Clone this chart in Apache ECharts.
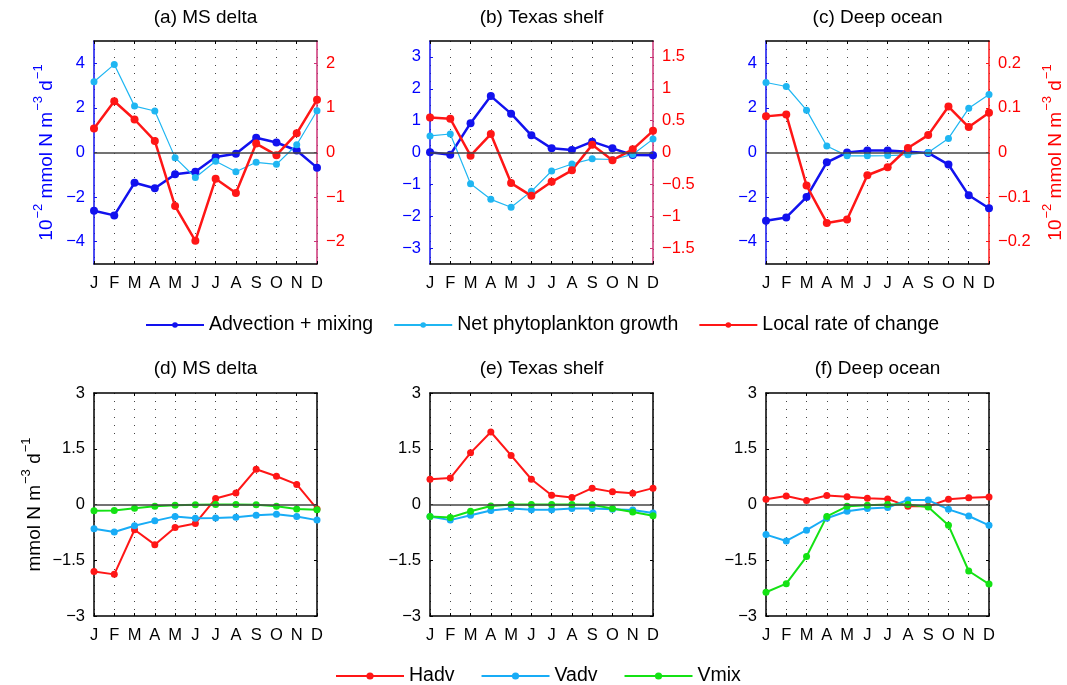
<!DOCTYPE html>
<html>
<head>
<meta charset="utf-8">
<script src="https://cdn.jsdelivr.net/npm/echarts@6/dist/echarts.min.js"></script>
<style>html,body{margin:0;padding:0;background:#fff;}#c{width:1067px;height:685px;}</style>
</head>
<body>
<div id="c"></div>
<script>
// ---------- data ----------
const months = ['Jan','Feb','Mar','Apr','May','Jun','Jul','Aug','Sep','Oct','Nov','Dec'];

// top row: advection+mixing, net phytoplankton growth (left axis), local rate of change (right axis)
const advA  = [-2.61,-2.82,-1.36,-1.60,-0.98,-0.86,-0.20,-0.06,0.66,0.45,0.09,-0.68];
const phyA  = [3.17,3.95,2.08,1.86,-0.23,-1.12,-0.39,-0.86,-0.44,-0.53,0.35,1.87];
const rateA = [0.54,1.15,0.74,0.26,-1.20,-1.98,-0.59,-0.91,0.20,-0.06,0.43,1.18];

const advB  = [0.01,-0.07,0.92,1.77,1.22,0.54,0.13,0.08,0.34,0.13,-0.08,-0.09];
const phyB  = [0.52,0.58,-0.98,-1.47,-1.72,-1.22,-0.58,-0.36,-0.20,-0.22,-0.06,0.42];
const rateB = [0.55,0.53,-0.05,0.29,-0.48,-0.68,-0.46,-0.28,0.12,-0.12,0.05,0.34];

const advC  = [-3.06,-2.91,-2.00,-0.44,0.00,0.09,0.09,0.03,-0.02,-0.54,-1.92,-2.50];
const phyC  = [3.14,2.96,1.90,0.29,-0.15,-0.15,-0.14,-0.10,0.00,0.63,1.98,2.60];
const rateC = [0.081,0.085,-0.074,-0.158,-0.150,-0.051,-0.033,0.010,0.039,0.103,0.057,0.089];

// bottom row: Hadv, Vadv, Vmix
const hadvD = [-1.80,-1.88,-0.68,-1.08,-0.62,-0.51,0.16,0.31,0.95,0.76,0.54,-0.12];
const vadvD = [-0.65,-0.74,-0.57,-0.44,-0.32,-0.37,-0.36,-0.34,-0.29,-0.26,-0.32,-0.42];
const vmixD = [-0.17,-0.16,-0.10,-0.05,-0.02,-0.01,0.00,0.00,-0.01,-0.05,-0.12,-0.14];

const hadvE = [0.68,0.71,1.39,1.95,1.32,0.68,0.25,0.19,0.44,0.34,0.30,0.44];
const vadvE = [-0.32,-0.42,-0.29,-0.16,-0.11,-0.14,-0.14,-0.11,-0.11,-0.13,-0.15,-0.23];
const vmixE = [-0.32,-0.35,-0.18,-0.04,0.00,0.00,0.00,0.00,-0.01,-0.11,-0.20,-0.30];

const hadvF = [0.14,0.23,0.11,0.24,0.21,0.17,0.15,-0.05,-0.05,0.14,0.18,0.20];
const vadvF = [-0.81,-0.98,-0.69,-0.37,-0.18,-0.11,-0.08,0.12,0.12,-0.13,-0.31,-0.56];
const vmixF = [-2.36,-2.13,-1.40,-0.32,-0.05,-0.02,0.00,0.00,-0.07,-0.56,-1.79,-2.14];

// tick labels
const ticksLeftAC  = [-4,-2,0,2,4];
const ticksRightA  = [-2,-1,0,1,2];
const ticksLeftB   = [-3,-2,-1,0,1,2,3];
const ticksRightB  = [-1.5,-1,-0.5,0,0.5,1,1.5];
const ticksRightC  = [-0.2,-0.1,0,0.1,0.2];
const ticksBottom  = [-3,-1.5,0,1.5,3];

const titles = ['(a) MS delta','(b) Texas shelf','(c) Deep ocean','(d) MS delta','(e) Texas shelf','(f) Deep ocean'];
const topNames = ['Advection + mixing','Net phytoplankton growth','Local rate of change'];
const botNames = ['Hadv','Vadv','Vmix'];

// ---------- styling / layout ----------
const FONT = 'Liberation Sans';
const BLUE = '#1212ee', CYAN = '#1fb6f2', RED = '#ff1616', GREEN = '#14e214', VCYAN = '#18acf6';
const MAG = '#cc3377';
const lefts = [94, 430, 766];
const W = 223, H = 223;
const tops = [41, 393];
const BIG = 19;

const minus = v => String(v).replace('-', '\u2212');

const grids = [], xAxes = [], yAxes = [], series = [], graphics = [];

function addGrid(left, top) {
  grids.push({left: left, top: top, width: W, height: H, containLabel: false});
  const gi = grids.length - 1;
  const baseX = {
    gridIndex: gi, type: 'category', data: months, boundaryGap: false,
    axisLine: {show: true, onZero: false, lineStyle: {color: '#000', width: 1.5}},
    axisTick: {show: true, inside: true, length: 3, alignWithLabel: true, lineStyle: {color: '#000'}},
  };
  xAxes.push(Object.assign({}, baseX, {
    position: 'bottom',
    axisLabel: {show: true, interval: 0, margin: 11, fontSize: 16.5, fontFamily: FONT, color: '#000',
      formatter: v => v.charAt(0)},
    splitLine: {show: true, interval: 0, lineStyle: {color: '#444', width: 1, type: [1, 7]}}
  }));
  xAxes.push(Object.assign({}, baseX, {
    position: 'top', axisLabel: {show: false}, splitLine: {show: false}
  }));
  return gi;
}

function richName(color, withPrefix) {
  const n = {fontSize: BIG, fontFamily: FONT, color: color, lineHeight: 24, verticalAlign: 'bottom'};
  const s = {fontSize: 13, fontFamily: FONT, color: color, lineHeight: 24, verticalAlign: 'top', padding: [0,0,0,1]};
  return {
    text: (withPrefix ? '{n|10}{s|\u22122}{n| ' : '{n|') + 'mmol N m}{s|\u22123}{n| d}{s|\u22121}',
    style: {fontSize: BIG, fontFamily: FONT, color: color, rich: {n: n, s: s}}
  };
}

function addY(gi, pos, min, max, ticks, labelColor, lineColor, showLabels, nameObj, nameGap) {
  const y = {
    gridIndex: gi, type: 'value', position: pos, min: min, max: max,
    axisLine: {show: true, onZero: false, lineStyle: {color: lineColor, width: 1.5}},
    axisTick: {show: true, inside: true, length: 3, customValues: ticks, lineStyle: {color: lineColor}},
    axisLabel: {show: showLabels, customValues: ticks, margin: 9, fontSize: 16.5, fontFamily: FONT,
      color: labelColor, formatter: minus},
    splitLine: {show: false}
  };
  if (nameObj) {
    y.name = nameObj.text;
    y.nameLocation = 'middle';
    y.nameRotate = 90;
    y.nameGap = nameGap;
    y.nameTextStyle = nameObj.style;
  }
  yAxes.push(y);
  return yAxes.length - 1;
}

const zeroLine = {
  silent: true, symbol: 'none', animation: false, label: {show: false},
  lineStyle: {color: '#444', width: 1.5, type: 'solid'}, data: [{yAxis: 0}]
};

function line(name, data, gi, yi, color, lw, ss, withZero) {
  const s = {
    name: name, type: 'line', data: data, xAxisIndex: gi * 2, yAxisIndex: yi,
    symbol: 'circle', symbolSize: ss, showSymbol: true,
    lineStyle: {color: color, width: lw}, itemStyle: {color: color},
    animation: false, z: 3
  };
  if (withZero) s.markLine = zeroLine;
  series.push(s);
}

// ---- top row ----
const topSets = [
  {adv: advA, phy: phyA, rate: rateA, lmin: -5, lmax: 5, lt: ticksLeftAC, rmin: -2.5, rmax: 2.5, rt: ticksRightA, rline: MAG},
  {adv: advB, phy: phyB, rate: rateB, lmin: -3.5, lmax: 3.5, lt: ticksLeftB, rmin: -1.75, rmax: 1.75, rt: ticksRightB, rline: MAG},
  {adv: advC, phy: phyC, rate: rateC, lmin: -5, lmax: 5, lt: ticksLeftAC, rmin: -0.25, rmax: 0.25, rt: ticksRightC, rline: RED}
];
topSets.forEach((p, i) => {
  const gi = addGrid(lefts[i], tops[0]);
  const yl = addY(gi, 'left', p.lmin, p.lmax, p.lt, '#0000ff', BLUE, true,
    i === 0 ? richName('#0000ff', true) : null, 38);
  const yr = addY(gi, 'right', p.rmin, p.rmax, p.rt, '#ff0000', p.rline, true,
    i === 2 ? richName('#ff0000', true) : null, 52);
  line(topNames[0], p.adv, gi, yl, BLUE, 2.5, 8, true);
  line(topNames[1], p.phy, gi, yl, CYAN, 1.2, 7, false);
  line(topNames[2], p.rate, gi, yr, RED, 2.5, 8, false);
  graphics.push({type: 'text', x: lefts[i] + W / 2, y: 8,
    style: {text: titles[i], font: BIG + 'px "' + FONT + '"', fill: '#000', textAlign: 'center', textVerticalAlign: 'top'}});
});

// ---- bottom row ----
const botSets = [
  {h: hadvD, v: vadvD, m: vmixD},
  {h: hadvE, v: vadvE, m: vmixE},
  {h: hadvF, v: vadvF, m: vmixF}
];
botSets.forEach((p, i) => {
  const gi = addGrid(lefts[i], tops[1]);
  const yl = addY(gi, 'left', -3, 3, ticksBottom, '#000', '#000', true,
    i === 0 ? richName('#000', false) : null, 50);
  addY(gi, 'right', -3, 3, ticksBottom, '#000', '#000', false, null, 0);
  line(botNames[0], p.h, gi, yl, RED, 2, 7, true);
  line(botNames[1], p.v, gi, yl, VCYAN, 2, 7, false);
  line(botNames[2], p.m, gi, yl, GREEN, 2, 7, false);
  graphics.push({type: 'text', x: lefts[i] + W / 2, y: 359,
    style: {text: titles[i + 3], font: BIG + 'px "' + FONT + '"', fill: '#000', textAlign: 'center', textVerticalAlign: 'top'}});
});

const chart = echarts.init(document.getElementById('c'), null, {renderer: 'canvas'});
chart.setOption({
  backgroundColor: '#fff',
  animation: false,
  textStyle: {fontFamily: FONT},
  grid: grids,
  xAxis: xAxes,
  yAxis: yAxes,
  series: series,
  graphic: graphics,
  legend: [
    {data: topNames, left: 140, top: 310, itemWidth: 58, itemHeight: 7, itemGap: 20, selectedMode: false,
      textStyle: {fontSize: 19.5, fontFamily: FONT, color: '#000'}},
    {data: botNames, left: 330, top: 661, itemWidth: 68, itemHeight: 9, itemGap: 26, selectedMode: false,
      textStyle: {fontSize: 19.5, fontFamily: FONT, color: '#000'}}
  ]
});
</script>
</body>
</html>
